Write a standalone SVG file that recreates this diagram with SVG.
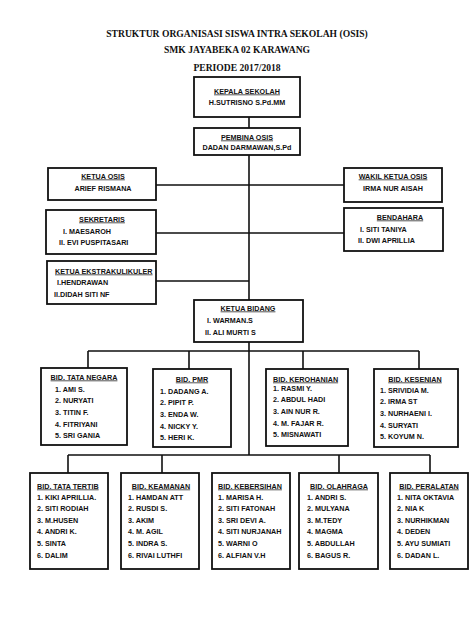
<svg xmlns="http://www.w3.org/2000/svg" width="474" height="632" viewBox="0 0 474 632" xml:space="preserve">
<style>
.title{font-family:"Liberation Serif","Times New Roman",serif;font-weight:bold;font-size:9.6px;fill:#111;text-anchor:middle}
.box{fill:#fff;stroke:#111;stroke-width:1.8}
.t{font-family:"Liberation Sans",Arial,sans-serif;font-weight:bold;font-size:7.2px;fill:#111}
.h{text-decoration:underline}
.c{text-anchor:middle}
.ln{fill:none;stroke:#111;stroke-width:1.6}
</style>
<rect width="474" height="632" fill="#fff"/>
<g id="title">
<text class="title" x="237" y="37">STRUKTUR ORGANISASI SISWA INTRA SEKOLAH (OSIS)</text>
<text class="title" x="237" y="52.5">SMK JAYABEKA 02 KARAWANG</text>
<text class="title" x="237" y="71">PERIODE 2017/2018</text>
</g>
<g id="connectors">
<path class="ln" d="M249 117V128M249 155V300M249 342V455"/>
<path class="ln" d="M156 185H344M156 233H344M156 281H249"/>
<path class="ln" d="M88 351H419M88 351V368M189 351V369M303 351V369M419 351V369"/>
<path class="ln" d="M68 455H430M68 455V473M162 455V473M339 455V473M430 455V473"/>
</g>
<g id="kepala">
<rect class="box" x="194" y="77" width="106" height="40"/>
<text class="t h c" x="247" y="93.5">KEPALA SEKOLAH</text>
<text class="t c" x="247" y="104.5">H.SUTRISNO S.Pd.MM</text>
</g>
<g id="pembina">
<rect class="box" x="194" y="128" width="106" height="27"/>
<text class="t h c" x="247" y="139.5">PEMBINA OSIS</text>
<text class="t c" x="247" y="150">DADAN DARMAWAN,S.Pd</text>
</g>
<g id="ketua-osis">
<rect class="box" x="48" y="168" width="108" height="32"/>
<text class="t h c" x="103" y="178.5">KETUA OSIS</text>
<text class="t c" x="103" y="190.5">ARIEF RISMANA</text>
</g>
<g id="wakil">
<rect class="box" x="344" y="168" width="98" height="34"/>
<text class="t h c" x="393" y="178.5">WAKIL KETUA OSIS</text>
<text class="t c" x="393" y="190.5">IRMA NUR AISAH</text>
</g>
<g id="sekretaris">
<rect class="box" x="46" y="210" width="110" height="44"/>
<text class="t h c" x="102" y="221.5">SEKRETARIS</text>
<text class="t" x="63" y="233.5">I.  MAESAROH</text>
<text class="t" x="59" y="244.5">II.  EVI PUSPITASARI</text>
</g>
<g id="bendahara">
<rect class="box" x="344" y="208" width="99" height="43"/>
<text class="t h c" x="400" y="219.5">BENDAHARA</text>
<text class="t" x="360" y="231.5">I.  SITI TANIYA</text>
<text class="t" x="358" y="242.5">II.  DWI APRILLIA</text>
</g>
<g id="ekstra">
<rect class="box" x="47" y="261" width="109" height="43"/>
<text class="t h" x="55" y="273.5">KETUA EKSTRAKULIKULER</text>
<text class="t" x="57" y="284.5">I.HENDRAWAN</text>
<text class="t" x="54" y="296.5">II.DIDAH SITI NF</text>
</g>
<g id="ketua-bidang">
<rect class="box" x="194" y="300" width="109" height="42"/>
<text class="t h c" x="248" y="310.5">KETUA BIDANG</text>
<text class="t" x="207" y="322.5">I.  WARMAN.S</text>
<text class="t" x="205" y="334.5">II.  ALI MURTI S</text>
</g>
<g id="tata-negara">
<rect class="box" x="41" y="368" width="86" height="77"/>
<text class="t h c" x="84" y="379.5">BID. TATA NEGARA</text>
<text class="t" x="55" y="391.5">1.  AMI S.</text>
<text class="t" x="55" y="403.2">2.  NURYATI</text>
<text class="t" x="55" y="414.9">3.  TITIN F.</text>
<text class="t" x="55" y="426.6">4.  FITRIYANI</text>
<text class="t" x="55" y="438.3">5.  SRI GANIA</text>
</g>
<g id="pmr">
<rect class="box" x="153" y="369" width="78" height="78"/>
<text class="t h c" x="192" y="381.5">BID. PMR</text>
<text class="t" x="160" y="393.5">1.  DADANG A.</text>
<text class="t" x="160" y="405.2">2.  PIPIT P.</text>
<text class="t" x="160" y="416.9">3.  ENDA W.</text>
<text class="t" x="160" y="428.6">4.  NICKY Y.</text>
<text class="t" x="160" y="440">5.  HERI K.</text>
</g>
<g id="kerohanian">
<rect class="box" x="266" y="369" width="82" height="77"/>
<text class="t h" x="273" y="381.5">BID. KEROHANIAN</text>
<text class="t" x="273" y="390.5">1.  RASMI Y.</text>
<text class="t" x="273" y="402.2">2.  ABDUL HADI</text>
<text class="t" x="273" y="413.9">3.  AIN NUR R.</text>
<text class="t" x="273" y="425.6">4.  M. FAJAR R.</text>
<text class="t" x="273" y="437.3">5.  MISNAWATI</text>
</g>
<g id="kesenian">
<rect class="box" x="374" y="369" width="84" height="78"/>
<text class="t h c" x="415" y="381.5">BID. KESENIAN</text>
<text class="t" x="380" y="392.5">1.  SRIVIDIA M.</text>
<text class="t" x="380" y="404.2">2.  IRMA ST</text>
<text class="t" x="380" y="415.9">3.  NURHAENI I.</text>
<text class="t" x="380" y="427.6">4.  SURYATI</text>
<text class="t" x="380" y="439">5.  KOYUM N.</text>
</g>
<g id="tata-tertib">
<rect class="box" x="30" y="473" width="78" height="96"/>
<text class="t h" x="37" y="488.5">BID. TATA TERTIB</text>
<text class="t" x="37" y="499.5">1.  KIKI APRILLIA.</text>
<text class="t" x="37" y="511.1">2.  SITI RODIAH</text>
<text class="t" x="37" y="522.7">3.  M.HUSEN</text>
<text class="t" x="37" y="534.3">4.  ANDRI K.</text>
<text class="t" x="37" y="545.9">5.  SINTA</text>
<text class="t" x="37" y="557.5">6.  DALIM</text>
</g>
<g id="keamanan">
<rect class="box" x="121" y="473" width="78" height="96"/>
<text class="t h c" x="161" y="488.5">BID. KEAMANAN</text>
<text class="t" x="128" y="499.5">1.  HAMDAN ATT</text>
<text class="t" x="128" y="511.1">2.  RUSDI S.</text>
<text class="t" x="128" y="522.7">3.  AKIM</text>
<text class="t" x="128" y="534.3">4.  M. AGIL</text>
<text class="t" x="128" y="545.9">5.  INDRA S.</text>
<text class="t" x="128" y="557.5">6.  RIVAI LUTHFI</text>
</g>
<g id="kebersihan">
<rect class="box" x="212" y="473" width="78" height="96"/>
<text class="t h" x="218" y="488.5">BID. KEBERSIHAN</text>
<text class="t" x="218" y="499.5">1. MARISA H.</text>
<text class="t" x="218" y="511.1">2. SITI FATONAH</text>
<text class="t" x="218" y="522.7">3. SRI DEVI A.</text>
<text class="t" x="218" y="534.3">4. SITI NURJANAH</text>
<text class="t" x="218" y="545.9">5. WARNI O</text>
<text class="t" x="218" y="557.5">6.  ALFIAN V.H</text>
</g>
<g id="olahraga">
<rect class="box" x="299" y="473" width="79" height="96"/>
<text class="t h c" x="339" y="488.5">BID. OLAHRAGA</text>
<text class="t" x="307" y="499.5">1.  ANDRI  S.</text>
<text class="t" x="307" y="511.1">2. MULYANA</text>
<text class="t" x="307" y="522.7">3. M.TEDY</text>
<text class="t" x="307" y="534.3">4. MAGMA</text>
<text class="t" x="307" y="545.9">5. ABDULLAH</text>
<text class="t" x="307" y="557.5">6.  BAGUS R.</text>
</g>
<g id="peralatan">
<rect class="box" x="390" y="473" width="78" height="96"/>
<text class="t h c" x="429" y="488.5">BID. PERALATAN</text>
<text class="t" x="397" y="499.5">1. NITA OKTAVIA</text>
<text class="t" x="397" y="511.1">2. NIA K</text>
<text class="t" x="397" y="522.7">3. NURHIKMAN</text>
<text class="t" x="397" y="534.3">4. DEDEN</text>
<text class="t" x="397" y="545.9">5. AYU SUMIATI</text>
<text class="t" x="397" y="557.5">6.  DADAN L.</text>
</g>
</svg>
